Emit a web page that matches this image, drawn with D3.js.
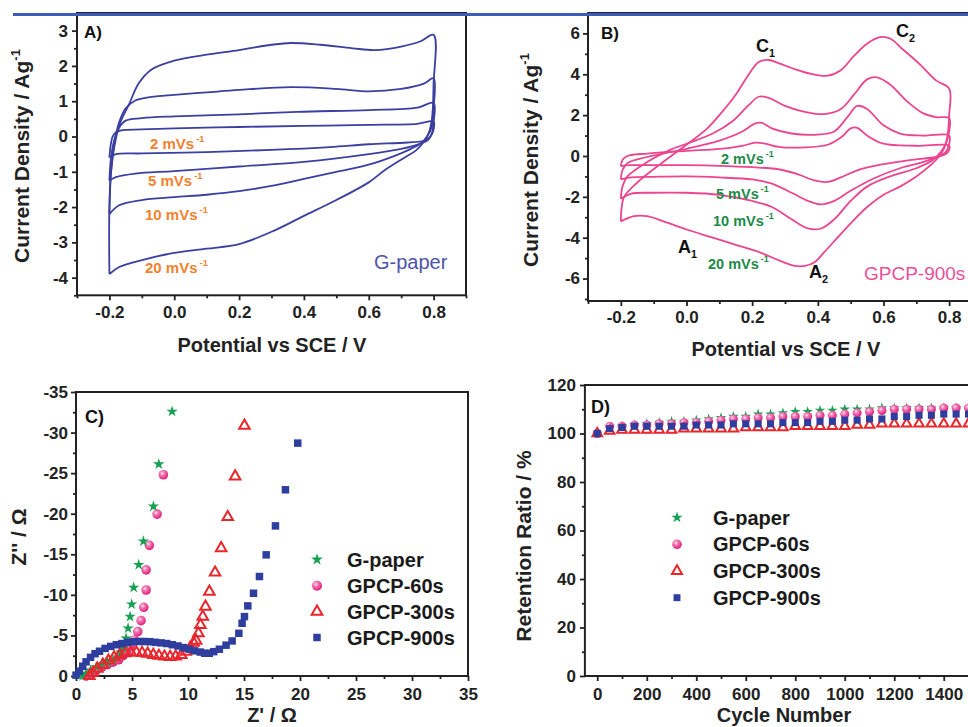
<!DOCTYPE html>
<html>
<head>
<meta charset="utf-8">
<script src="https://cdn.jsdelivr.net/npm/d3@7"></script>
<style>
  body { margin: 0; background: #fff; }
  svg { display: block; font-family: "Liberation Sans", Arial, Helvetica, sans-serif; }
</style>
</head>
<body>
<svg id="fig" width="968" height="727"></svg>
<script>
// ---- panel A : CV of G-paper, one closed loop per scan rate, [E (V), j (A/g)]
var cvA2 = [[-0.2,-0.6],[-0.197,-0.3],[-0.19,0.0],[-0.18,0.12],[-0.16,0.18],[-0.1,0.2],[0.0,0.23],[0.2,0.27],[0.4,0.3],[0.6,0.33],[0.75,0.36],[0.8,0.42],[0.8,0.2],[0.79,0.0],[0.77,-0.12],[0.72,-0.17],[0.6,-0.22],[0.48,-0.3],[0.3,-0.38],[0.1,-0.44],[-0.1,-0.48],[-0.18,-0.5],[-0.2,-0.6]];
var cvA5 = [[-0.2,-1.25],[-0.195,-0.6],[-0.185,-0.1],[-0.17,0.25],[-0.15,0.45],[-0.1,0.52],[0.0,0.57],[0.2,0.63],[0.38,0.7],[0.6,0.75],[0.75,0.82],[0.8,0.95],[0.8,0.4],[0.795,0.1],[0.785,-0.08],[0.76,-0.2],[0.7,-0.35],[0.6,-0.5],[0.4,-0.72],[0.2,-0.85],[0.0,-0.98],[-0.12,-1.05],[-0.18,-1.15],[-0.2,-1.25]];
var cvA10 = [[-0.2,-2.2],[-0.195,-1.0],[-0.185,-0.2],[-0.17,0.4],[-0.15,0.8],[-0.12,1.02],[-0.07,1.12],[0.0,1.18],[0.1,1.25],[0.2,1.32],[0.36,1.4],[0.5,1.35],[0.6,1.28],[0.7,1.35],[0.77,1.5],[0.8,1.65],[0.8,0.8],[0.795,0.3],[0.78,0.0],[0.76,-0.2],[0.73,-0.35],[0.68,-0.55],[0.6,-0.8],[0.5,-1.0],[0.4,-1.2],[0.3,-1.4],[0.2,-1.55],[0.1,-1.65],[0.0,-1.72],[-0.1,-1.8],[-0.17,-1.95],[-0.2,-2.2]];
var cvA20 = [[-0.2,-3.9],[-0.195,-1.0],[-0.17,0.3],[-0.14,0.9],[-0.11,1.5],[-0.07,1.9],[0.0,2.15],[0.1,2.32],[0.2,2.45],[0.3,2.6],[0.36,2.65],[0.45,2.6],[0.55,2.5],[0.62,2.45],[0.7,2.55],[0.76,2.7],[0.8,2.88],[0.8,1.5],[0.795,0.5],[0.785,0.1],[0.77,-0.15],[0.745,-0.4],[0.71,-0.6],[0.65,-0.95],[0.6,-1.3],[0.5,-1.8],[0.4,-2.25],[0.3,-2.7],[0.2,-3.05],[0.1,-3.18],[0.0,-3.3],[-0.1,-3.5],[-0.17,-3.7],[-0.2,-3.9]];

// ---- panel B : CV of GPCP-900s
var cvB2 = [[-0.2,-0.5],[-0.195,-0.2],[-0.18,0.0],[-0.12,0.12],[0.0,0.25],[0.1,0.35],[0.17,0.5],[0.21,0.65],[0.24,0.6],[0.28,0.45],[0.36,0.42],[0.43,0.55],[0.47,0.9],[0.5,1.35],[0.52,1.38],[0.55,1.0],[0.6,0.6],[0.7,0.5],[0.8,0.5],[0.8,0.3],[0.79,0.1],[0.76,-0.05],[0.68,-0.2],[0.6,-0.4],[0.52,-0.7],[0.47,-1.05],[0.43,-1.27],[0.39,-1.2],[0.34,-0.9],[0.28,-0.65],[0.2,-0.55],[0.1,-0.48],[0.0,-0.45],[-0.1,-0.45],[-0.17,-0.45],[-0.2,-0.5]];
var cvB5 = [[-0.2,-1.15],[-0.195,-0.7],[-0.18,-0.35],[-0.12,-0.05],[0.0,0.35],[0.1,0.75],[0.17,1.2],[0.21,1.6],[0.23,1.62],[0.26,1.35],[0.32,1.1],[0.4,1.05],[0.45,1.2],[0.49,1.9],[0.52,2.45],[0.55,2.3],[0.6,1.5],[0.65,1.1],[0.72,1.0],[0.8,1.0],[0.8,0.6],[0.79,0.2],[0.77,0.0],[0.72,-0.3],[0.65,-0.6],[0.57,-1.1],[0.5,-1.7],[0.45,-2.2],[0.41,-2.37],[0.37,-2.2],[0.32,-1.8],[0.26,-1.35],[0.2,-1.15],[0.1,-1.05],[0.0,-1.0],[-0.1,-1.02],[-0.17,-1.05],[-0.2,-1.15]];
var cvB10 = [[-0.2,-2.1],[-0.195,-1.5],[-0.18,-1.0],[-0.12,-0.3],[-0.05,0.3],[0.0,0.6],[0.08,1.1],[0.14,1.7],[0.19,2.5],[0.22,2.9],[0.25,2.85],[0.3,2.45],[0.35,2.2],[0.42,2.05],[0.47,2.3],[0.51,3.0],[0.55,3.75],[0.58,3.85],[0.62,3.5],[0.67,2.7],[0.72,2.1],[0.76,1.9],[0.8,1.85],[0.8,1.2],[0.79,0.6],[0.775,0.2],[0.75,-0.2],[0.7,-0.6],[0.62,-1.0],[0.55,-1.5],[0.5,-2.2],[0.45,-3.1],[0.41,-3.55],[0.37,-3.55],[0.32,-3.1],[0.26,-2.5],[0.2,-2.2],[0.1,-1.9],[0.0,-1.8],[-0.1,-1.8],[-0.17,-1.85],[-0.2,-2.1]];
var cvB20 = [[-0.2,-3.2],[-0.198,-2.6],[-0.19,-2.0],[-0.15,-1.3],[-0.08,-0.4],[0.0,0.55],[0.06,1.3],[0.1,2.0],[0.15,3.0],[0.19,4.0],[0.22,4.6],[0.25,4.7],[0.28,4.55],[0.33,4.25],[0.38,4.02],[0.43,3.93],[0.47,4.2],[0.51,4.9],[0.55,5.5],[0.59,5.82],[0.62,5.75],[0.66,5.2],[0.71,4.5],[0.76,3.7],[0.8,3.3],[0.8,2.0],[0.795,1.0],[0.785,0.4],[0.77,0.0],[0.74,-0.5],[0.7,-1.0],[0.65,-1.5],[0.6,-1.9],[0.55,-2.5],[0.5,-3.3],[0.46,-4.0],[0.42,-4.7],[0.39,-5.2],[0.36,-5.38],[0.33,-5.38],[0.28,-5.1],[0.22,-4.7],[0.15,-4.35],[0.08,-4.0],[0.0,-3.6],[-0.07,-3.2],[-0.12,-2.95],[-0.16,-2.95],[-0.2,-3.2]];

var rateLabels = ['2', '5', '10', '20'];
var cvTicksX = [-0.2, 0.0, 0.2, 0.4, 0.6, 0.8];
var cvMinorX = [-0.3, -0.1, 0.1, 0.3, 0.5, 0.7, 0.9];
var aTicksY = [-4, -3, -2, -1, 0, 1, 2, 3];
var aMinorY = [-4.5, -3.5, -2.5, -1.5, -0.5, 0.5, 1.5, 2.5];
var bTicksY = [-6, -4, -2, 0, 2, 4, 6];
var bMinorY = [-7, -5, -3, -1, 1, 3, 5];

// ---- panel C : Nyquist plots, [Z' (ohm), Z'' (ohm)]
var nyqGpaper = [[0.6,0],[0.9,-0.3],[1.3,-0.7],[1.8,-1.1],[2.3,-1.45],[2.8,-1.7],[3.3,-1.9],[3.7,-2.3],[4.0,-2.9],[4.2,-3.5],[4.35,-4.0],[4.47,-4.65],[4.65,-5.88],[4.83,-7.32],[4.97,-8.84],[5.15,-10.9],[5.6,-13.7],[6.02,-16.6],[6.91,-20.9],[7.39,-26.1],[8.58,-32.6]];
var nyq60 = [[0.9,0],[1.3,-0.3],[1.8,-0.7],[2.3,-1.1],[2.8,-1.4],[3.3,-1.7],[3.8,-2.0],[4.2,-2.5],[4.55,-3.1],[4.85,-3.7],[5.21,-4.44],[5.51,-5.47],[5.81,-6.83],[6.05,-8.47],[6.26,-10.6],[6.26,-13.08],[6.55,-16.1],[7.24,-19.95],[7.8,-24.8]];
var nyq300 = [[1.2,0],[1.5,-0.4],[1.9,-0.9],[2.4,-1.4],[2.9,-1.9],[3.4,-2.3],[3.9,-2.6],[4.4,-2.8],[4.9,-2.9],[5.4,-2.9],[5.9,-2.85],[6.4,-2.75],[6.9,-2.6],[7.4,-2.5],[7.9,-2.4],[8.4,-2.35],[8.9,-2.4],[9.4,-2.6],[9.8,-3.0],[10.2,-3.5],[10.5,-4.1],[10.72,-4.36],[10.93,-5.26],[11.11,-6.29],[11.32,-7.32],[11.56,-8.55],[11.91,-10.4],[12.42,-12.75],[12.96,-15.75],[13.55,-19.6],[14.21,-24.6],[15.04,-30.85]];
var nyq900 = [[0.0,-0.1],[0.3,-0.6],[0.6,-1.2],[0.9,-1.75],[1.3,-2.3],[1.7,-2.75],[2.1,-3.05],[2.6,-3.4],[3.1,-3.65],[3.6,-3.85],[4.1,-4.0],[4.6,-4.15],[5.1,-4.22],[5.6,-4.25],[6.1,-4.25],[6.6,-4.22],[7.1,-4.15],[7.6,-4.08],[8.1,-4.0],[8.6,-3.85],[9.1,-3.7],[9.6,-3.5],[10.1,-3.3],[10.6,-3.1],[11.1,-2.95],[11.5,-2.8],[11.9,-2.8],[12.3,-3.0],[12.8,-3.3],[13.4,-3.8],[13.94,-4.32],[14.54,-5.26],[14.83,-6.5],[15.04,-7.32],[15.34,-8.64],[15.85,-10.2],[16.38,-12.26],[16.98,-14.93],[17.81,-18.5],[18.7,-22.95],[19.8,-28.7]];
var cTicks = [0, 5, 10, 15, 20, 25, 30, 35];
var cMinor = [2.5, 7.5, 12.5, 17.5, 22.5, 27.5, 32.5];
var cTicksY = [0, -5, -10, -15, -20, -25, -30, -35];
var cMinorY = [-2.5, -7.5, -12.5, -17.5, -22.5, -27.5, -32.5];

// ---- panel D : retention (%) vs cycle number
var cycles = [0,50,100,150,200,250,300,350,400,450,500,550,600,650,700,750,800,850,900,950,1000,1050,1100,1150,1200,1250,1300,1350,1400,1450,1500];
var retGpaper = [100,102.5,103,103.5,104,104.5,105,105,105.5,106,106.5,107,107,108,108,108.5,109,109,109.5,109.5,110,110,110,110.5,110.5,110.5,110.5,110.5,110.5,110.5,110.5];
var ret60 = [100,103,103,103.5,103.5,104,104,104.5,104.5,105,105.5,106,106,106.5,106.5,107,107,107,107.5,107.5,108,108.5,109,109.5,110,110,110,110,110.5,110.5,110.5];
var ret300 = [100,101,101.5,101.5,101.5,101.5,101.5,102,102,102,102,102,102.5,102.5,102.5,102.5,103,103,103,103,103,103.5,103.5,104,104,104,104,104,104,104,104];
var ret900 = [100,102,102.5,103,103,103,103,103,103.5,103.5,103.5,104,104,104,104,104.5,104.5,104.5,105,105,105.5,105.5,106,106,107,107,107.5,107.5,108,108,108];
var dTicks = [0, 200, 400, 600, 800, 1000, 1200, 1400];
var dMinor = [100, 300, 500, 700, 900, 1100, 1300, 1500];
var dTicksY = [0, 20, 40, 60, 80, 100, 120];
var dMinorY = [10, 30, 50, 70, 90, 110];

var seriesNames = ['G-paper', 'GPCP-60s', 'GPCP-300s', 'GPCP-900s'];

var svg = d3.select('#fig');
var ink = '#222';
var green = '#17a052', pink = '#ec4c9c', red = '#e8262c', navy = '#2d3e9e';

var defs = svg.append('defs');
var grad = defs.append('radialGradient').attr('id', 'sphere').attr('cx', '38%').attr('cy', '35%').attr('r', '65%');
grad.append('stop').attr('offset', '0%').attr('stop-color', '#ffe3f0');
grad.append('stop').attr('offset', '35%').attr('stop-color', '#f37ab5');
grad.append('stop').attr('offset', '100%').attr('stop-color', '#dd1f7d');

// axes + frame for one panel
function axes(x, y, o) {
  var g = svg.append('g');
  var x0 = x.range()[0], x1 = x.range()[1], y0 = y.range()[0], y1 = y.range()[1];

  g.append('g').attr('transform', 'translate(0,' + y0 + ')')
    .call(d3.axisBottom(x).tickValues(o.xMinor).tickSize(3).tickFormat(''));
  g.append('g').attr('transform', 'translate(0,' + y0 + ')')
    .call(d3.axisBottom(x).tickValues(o.xTicks).tickSize(5).tickPadding(o.xPad).tickFormat(o.xFmt));
  g.append('g').attr('transform', 'translate(' + x0 + ',0)')
    .call(d3.axisLeft(y).tickValues(o.yMinor).tickSize(3).tickFormat(''));
  g.append('g').attr('transform', 'translate(' + x0 + ',0)')
    .call(d3.axisLeft(y).tickValues(o.yTicks).tickSize(5).tickPadding(o.yPad).tickFormat(o.yFmt));

  g.selectAll('.domain').remove();
  g.selectAll('.tick line').attr('stroke', ink).attr('stroke-width', 1.8);
  g.selectAll('.tick text').attr('fill', ink).attr('font-size', 17).attr('font-weight', 'bold')
    .attr('font-family', '"Liberation Sans", Arial, sans-serif');

  g.append('rect').attr('x', x0).attr('y', y1).attr('width', x1 - x0).attr('height', y0 - y1)
    .attr('fill', 'none').attr('stroke', ink).attr('stroke-width', 2);
  return g;
}

function fmt1(d) { return d.toFixed(1); }
function fmt0(d) { return String(d); }

function title(t, x, y, size, rot) {
  var s = svg.append('text').attr('font-weight', 'bold').attr('font-size', size).attr('fill', ink)
    .attr('text-anchor', 'middle');
  if (rot) s.attr('transform', 'translate(' + x + ',' + y + ') rotate(-90)');
  else s.attr('x', x).attr('y', y);
  return s.text(t);
}

function supText(x, y, base, sup, size, color, weight) {
  var t = svg.append('text').attr('x', x).attr('y', y).attr('font-size', size)
    .attr('fill', color).attr('font-weight', weight || 'bold');
  t.append('tspan').text(base);
  t.append('tspan').attr('dx', 2).attr('dy', -size * 0.45).attr('font-size', size * 0.62).text(sup);
  return t;
}

function subText(x, y, base, sub, size) {
  var t = svg.append('text').attr('x', x).attr('y', y).attr('font-size', size)
    .attr('fill', '#111').attr('font-weight', 'bold');
  t.append('tspan').text(base);
  t.append('tspan').attr('dy', size * 0.3).attr('font-size', size * 0.6).text(sub);
}

// ================= A =================
var xA = d3.scaleLinear().domain([-0.3, 0.9]).range([77, 466]);
var yA = d3.scaleLinear().domain([-4.5, 3.5]).range([295.3, 13]);
axes(xA, yA, { xTicks: cvTicksX, xMinor: cvMinorX, yTicks: aTicksY, yMinor: aMinorY,
  xFmt: fmt1, yFmt: fmt0, xPad: 6, yPad: 4 });

var lineA = d3.line().x(function (d) { return xA(d[0]); }).y(function (d) { return yA(d[1]); })
  .curve(d3.curveCatmullRom.alpha(0.5));
svg.append('g').selectAll('path').data([cvA2, cvA5, cvA10, cvA20]).enter().append('path')
  .attr('d', lineA).attr('fill', 'none').attr('stroke', '#3b3f9f').attr('stroke-width', 1.8);

var orange = '#f2822e';
supText(150, 148.5, rateLabels[0] + ' mVs', '-1', 15, orange);
supText(148, 186, rateLabels[1] + ' mVs', '-1', 15, orange);
supText(145, 220, rateLabels[2] + ' mVs', '-1', 15, orange);
supText(145, 272.5, rateLabels[3] + ' mVs', '-1', 15, orange);

svg.append('text').attr('x', 374).attr('y', 269).attr('font-size', 20).attr('fill', '#4f53aa').text('G-paper');
svg.append('text').attr('x', 84).attr('y', 38).attr('font-size', 17).attr('font-weight', 'bold').attr('fill', '#111').text('A)');

title('Potential vs SCE / V', 272, 352, 20);
var tA = svg.append('text').attr('font-weight', 'bold').attr('font-size', 21).attr('fill', ink)
  .attr('text-anchor', 'middle').attr('transform', 'translate(29,156) rotate(-90)');
tA.append('tspan').text('Current Density / Ag');
tA.append('tspan').attr('dy', -9).attr('font-size', 13).text('-1');

// ================= B =================
var xB = d3.scaleLinear().domain([-0.3, 0.9]).range([588, 982]);
var yB = d3.scaleLinear().domain([-7.1, 7]).range([301, 13]);
axes(xB, yB, { xTicks: cvTicksX, xMinor: cvMinorX, yTicks: bTicksY, yMinor: bMinorY,
  xFmt: fmt1, yFmt: fmt0, xPad: 5, yPad: 3 });

var lineB = d3.line().x(function (d) { return xB(d[0]); }).y(function (d) { return yB(d[1]); })
  .curve(d3.curveCatmullRom.alpha(0.5));
svg.append('g').selectAll('path').data([cvB2, cvB5, cvB10, cvB20]).enter().append('path')
  .attr('d', lineB).attr('fill', 'none').attr('stroke', '#ec4590').attr('stroke-width', 1.8);

var gLab = '#1b8a48';
supText(721, 163.5, rateLabels[0] + ' mVs', '-1', 14.5, gLab);
supText(716, 199, rateLabels[1] + ' mVs', '-1', 14.5, gLab);
supText(713, 226, rateLabels[2] + ' mVs', '-1', 14.5, gLab);
supText(708, 269, rateLabels[3] + ' mVs', '-1', 14.5, gLab);

subText(756, 52, 'C', '1', 18);
subText(896, 37, 'C', '2', 18);
subText(678, 253, 'A', '1', 18);
subText(809, 278, 'A', '2', 18);

svg.append('text').attr('x', 864).attr('y', 280).attr('font-size', 19).attr('fill', '#ea4f98').text('GPCP-900s');
svg.append('text').attr('x', 601).attr('y', 39).attr('font-size', 17).attr('font-weight', 'bold').attr('fill', '#111').text('B)');

title('Potential vs SCE / V', 786, 356, 20);
var tB = svg.append('text').attr('font-weight', 'bold').attr('font-size', 21).attr('fill', ink)
  .attr('text-anchor', 'middle').attr('transform', 'translate(538,160) rotate(-90)');
tB.append('tspan').text('Current Density / Ag');
tB.append('tspan').attr('dy', -9).attr('font-size', 13).text('-1');

// ================= C =================
var xC = d3.scaleLinear().domain([0, 35]).range([76, 468]);
var yC = d3.scaleLinear().domain([0, -35]).range([676, 392]);
axes(xC, yC, { xTicks: cTicks, xMinor: cMinor, yTicks: cTicksY, yMinor: cMinorY,
  xFmt: fmt0, yFmt: fmt0, xPad: 7, yPad: 3 });

var star = d3.symbol().type(d3.symbolStar);
var square = d3.symbol().type(d3.symbolSquare);
var tri = d3.symbol().type(d3.symbolTriangle);

function scatter(x, y, data, kind, sz) {
  var g = svg.append('g');
  var sel = g.selectAll('.m').data(data).enter();
  if (kind === 'sphere') {
    sel.append('circle').attr('cx', function (d) { return x(d[0]); }).attr('cy', function (d) { return y(d[1]); })
      .attr('r', sz).attr('fill', 'url(#sphere)');
  } else {
    var sym = kind === 'star' ? star : kind === 'square' ? square : tri;
    sel.append('path').attr('transform', function (d) { return 'translate(' + x(d[0]) + ',' + y(d[1]) + ')'; })
      .attr('d', sym.size(sz)())
      .attr('fill', kind === 'star' ? green : kind === 'square' ? navy : 'none')
      .attr('stroke', kind === 'tri' ? red : 'none').attr('stroke-width', 2);
  }
}

scatter(xC, yC, nyq60, 'sphere', 4.8);
scatter(xC, yC, nyqGpaper, 'star', 40);
scatter(xC, yC, nyq300, 'tri', 48);
scatter(xC, yC, nyq900, 'square', 56);

function legend(mx, tx, rows, size, symSizes) {
  var kinds = ['star', 'sphere', 'tri', 'square'];
  var g = svg.append('g');
  kinds.forEach(function (k, i) {
    var cy = rows[i];
    if (k === 'sphere') {
      g.append('circle').attr('cx', mx).attr('cy', cy).attr('r', symSizes[i]).attr('fill', 'url(#sphere)');
    } else {
      var sym = k === 'star' ? star : k === 'square' ? square : tri;
      g.append('path').attr('transform', 'translate(' + mx + ',' + cy + ')').attr('d', sym.size(symSizes[i])())
        .attr('fill', k === 'star' ? green : k === 'square' ? navy : 'none')
        .attr('stroke', k === 'tri' ? red : 'none').attr('stroke-width', 2);
    }
    g.append('text').attr('x', tx).attr('y', cy + 7).attr('font-size', size).attr('font-weight', 'bold')
      .attr('fill', '#1a1a1a').text(seriesNames[i]);
  });
}
legend(317, 347, [559.5, 585.7, 611.7, 637.5], 20, [44, 5, 50, 56]);

svg.append('text').attr('x', 85).attr('y', 423).attr('font-size', 18).attr('font-weight', 'bold').attr('fill', '#111').text('C)');
title("Z' / \u03A9", 272, 722, 20);
title("Z'' / \u03A9", 26, 537, 21, true);

// ================= D =================
var xD = d3.scaleLinear().domain([-50, 1700]).range([584.9, 1018]);
var yD = d3.scaleLinear().domain([0, 120]).range([676, 385]);
axes(xD, yD, { xTicks: dTicks, xMinor: dMinor, yTicks: dTicksY, yMinor: dMinorY,
  xFmt: fmt0, yFmt: fmt0, xPad: 7, yPad: 4 });

function pairs(xs, ys) { return xs.map(function (c, i) { return [c, ys[i]]; }); }
scatter(xD, yD, pairs(cycles, retGpaper), 'star', 34);
scatter(xD, yD, pairs(cycles, ret60), 'sphere', 4.5);
scatter(xD, yD, pairs(cycles, ret300), 'tri', 40);
scatter(xD, yD, pairs(cycles, ret900), 'square', 50);

legend(677, 713, [517.5, 544.3, 571, 597.7], 20, [40, 4.8, 44, 48]);

svg.append('text').attr('x', 591).attr('y', 413).attr('font-size', 18).attr('font-weight', 'bold').attr('fill', '#111').text('D)');
title('Cycle Number', 784, 722, 20);
title('Retention Ratio / %', 531, 546, 21, true);

// blue rule across the top of the page
svg.append('line').attr('x1', 13).attr('x2', 968).attr('y1', 14.6).attr('y2', 14.6)
  .attr('stroke', '#3d5cba').attr('stroke-width', 3);
</script>
</body>
</html>
